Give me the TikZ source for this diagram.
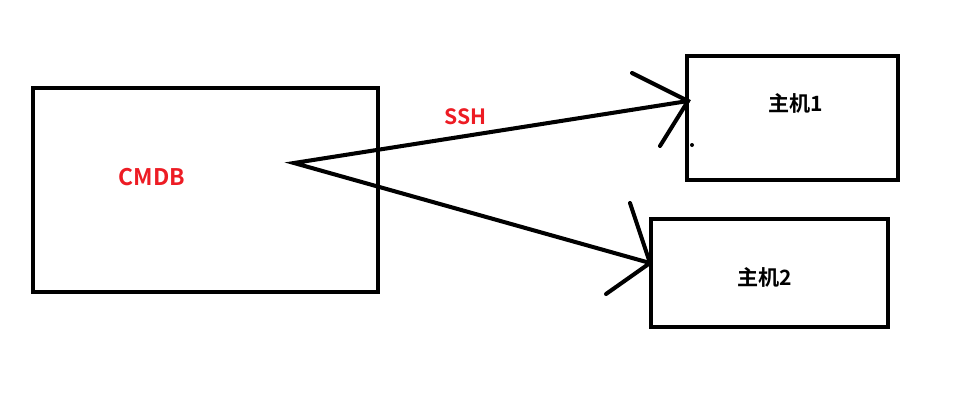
\documentclass[tikz,border=0pt]{standalone}
\usepackage{fontspec}
\setmainfont{Noto Sans CJK SC}[BoldFont={* Bold}]
\usepackage{tikz}
\usetikzlibrary{positioning, calc}
\definecolor{paintred}{RGB}{237, 28, 36}

\tikzset{
  box/.style={draw=black, line width=2.3pt, inner sep=0pt},
  hand/.style={draw=black, line width=2.3pt, line cap=round},
  lbl/.style={font=\bfseries\fontsize{12}{14}\selectfont, inner sep=0pt},
}

\begin{document}
\begin{tikzpicture}[x=0.02cm, y=-0.02cm]
    \useasboundingbox (0,0) rectangle (963,414);

    % boxes
    \node[box, minimum width=345*0.02cm, minimum height=204*0.02cm] (cmdb) at (205.5,190) {};
    \node[box, minimum width=211*0.02cm, minimum height=124*0.02cm] (host1) at (792.5,118) {};
    \node[box, minimum width=237*0.02cm, minimum height=108*0.02cm] (host2) at (769.5,273) {};

    % labels
    \node[lbl, text=paintred, font=\bfseries\fontsize{13}{15}\selectfont] (cmdbtxt) at (152,177) {CMDB};
    \node[lbl] (h1txt) at (796,103) {主机1};
    \node[lbl] (h2txt) at (765,277) {主机2};

    % hand drawn arrows
    \coordinate (src) at (294,163);
    \coordinate (tip1) at (688,101);
    \coordinate (tip2) at (650,263);
    \coordinate (barb1a) at (632,73);
    \coordinate (barb1b) at (660,146);
    \coordinate (barb2a) at (630,203);
    \coordinate (barb2b) at (606,294);

    \draw[hand] (tip1) -- (src) -- (tip2);
    \draw[hand] (barb1a) -- (tip1) -- (barb1b);
    \draw[hand] (barb2a) -- (tip2) -- (barb2b);
    \fill (692,145) circle (2);

    \node[lbl, text=paintred, above=11*0.02cm of $(src)!0.435!(tip1)$] (ssh) {SSH};
\end{tikzpicture}
\end{document}
